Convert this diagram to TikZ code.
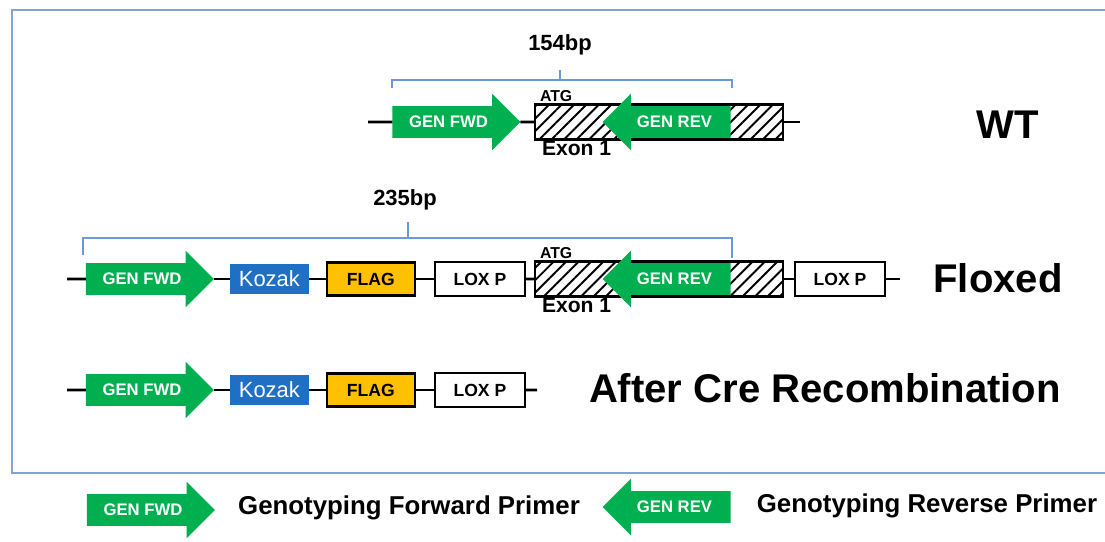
\documentclass[tikz,border=0pt]{standalone}
\usepackage{fontspec}
\setmainfont{Liberation Sans}
\usetikzlibrary{positioning,shapes.arrows,patterns.meta}
\definecolor{gengreen}{HTML}{00B050}
\definecolor{kozakblue}{HTML}{1F6FC5}
\definecolor{flagorange}{HTML}{FFC000}
\definecolor{framegray}{HTML}{85A3D0}
\definecolor{bracketblue}{HTML}{6A9AD8}

\begin{document}
\begin{tikzpicture}[x=0.2mm, y=-0.2mm,
  every node/.style={outer sep=0pt},
  fwd/.style={single arrow, fill=gengreen, text=white, font=\bfseries\fontsize{9.5}{10}\selectfont,
    minimum height=25.6mm, single arrow head extend=2.5mm, inner xsep=0.5mm, inner ysep=1.9mm},
  rev/.style={fwd, shape border rotate=180},
  exon/.style={draw, line width=1.5pt, pattern={Lines[angle=45,distance=5pt,line width=1.1pt]},
    minimum width=49.6mm, minimum height=7mm},
  kozak/.style={fill=kozakblue, text=white, font=\fontsize{12.5}{12}\selectfont, minimum width=15.8mm, minimum height=6mm},
  flag/.style={draw, line width=1.5pt, fill=flagorange, font=\bfseries\fontsize{10}{10}\selectfont,
    minimum width=17.6mm, minimum height=6.6mm},
  lox/.style={draw, line width=1.5pt, fill=white, font=\bfseries\fontsize{10}{10}\selectfont,
    minimum width=18mm, minimum height=6.8mm},
  bracket/.style={draw=bracketblue, line width=0.8pt},
  backbone/.style={line width=1.6pt},
  size/.style={font=\bfseries\fontsize{12.5}{13}\selectfont},
  small/.style={font=\bfseries\fontsize{9}{9}\selectfont, inner sep=0pt},
  title/.style={font=\bfseries\fontsize{22.8}{24}\selectfont},
  legend/.style={font=\bfseries\fontsize{14.7}{15}\selectfont}]
  \useasboundingbox (0,0) rectangle (1105,542);
  \draw[framegray, line width=1.6pt] (12,10) rectangle (1120,473);

  % WT allele
  \coordinate (wtL) at (368,122);
  \coordinate (wtR) at (800,122);
  \node[fwd] (wtF) at (448.5,122) {GEN FWD};
  \node[exon] (wtE) at (659,122) {};
  \node[rev] (wtRev) at (674.5,122) {GEN REV};
  \node[small, above right=0.6mm and 1mm of wtE.north west] (wtAtg) {ATG};
  \node[small, font=\bfseries\fontsize{12}{12}\selectfont, below right=0.3mm and 1.4mm of wtE.south west] (wtExon) {Exon 1};
  \foreach \a/\b in {wtL/wtF, wtF/wtE, wtE/wtR}
    \draw[backbone] (\a) -- (\b);
  \draw[bracket] (392,88) -- (392,80) -- (732,80) -- (732,88) (560,80) -- (560,70);
  \node[size] (wtSize) at (560,45) {154bp};
  \node[title] (wtName) at (1008,125) {WT};

  % Floxed allele
  \coordinate (flL) at (67,279);
  \coordinate (flR) at (900,279);
  \node[fwd] (flF) at (142,279) {GEN FWD};
  \node[kozak, right=3.2mm of flF] (flK) {Kozak};
  \node[flag, right=3.6mm of flK] (flG) {FLAG};
  \node[lox, right=4mm of flG] (flX) {LOX P};
  \node[exon] (flE) at (659,279) {};
  \node[rev] (flRev) at (674.5,279) {GEN REV};
  \node[lox] (flX2) at (840,279) {LOX P};
  \node[small, above right=0.6mm and 1mm of flE.north west] (flAtg) {ATG};
  \node[small, font=\bfseries\fontsize{12}{12}\selectfont, below right=0.3mm and 1.4mm of flE.south west] (flExon) {Exon 1};
  \foreach \a/\b in {flL/flF, flF/flK, flK/flG, flG/flX, flX/flE, flE/flX2, flX2/flR}
    \draw[backbone] (\a) -- (\b);
  \draw[bracket] (83,255) -- (83,238) -- (732,238) -- (732,258) (408,238) -- (408,222);
  \node[size] (flSize) at (405,200) {235bp};
  \node[title] (flName) at (998,278) {Floxed};

  % after Cre recombination
  \coordinate (crL) at (67,390);
  \coordinate (crR) at (537,390);
  \node[fwd] (crF) at (142,390) {GEN FWD};
  \node[kozak, right=3.2mm of crF] (crK) {Kozak};
  \node[flag, right=3.6mm of crK] (crG) {FLAG};
  \node[lox, right=4mm of crG] (crX) {LOX P};
  \foreach \a/\b in {crL/crF, crF/crK, crK/crG, crG/crX, crX/crR}
    \draw[backbone] (\a) -- (\b);
  \node[title] (crName) at (825,388) {After Cre Recombination};

  % legend
  \node[fwd] (lgF) at (143,510) {GEN FWD};
  \node[legend] (lgFText) at (409,508) {Genotyping Forward Primer};
  \node[rev] (lgR) at (674.5,507) {GEN REV};
  \node[legend] (lgRText) at (927,506) {Genotyping Reverse Primer};
\end{tikzpicture}
\end{document}
